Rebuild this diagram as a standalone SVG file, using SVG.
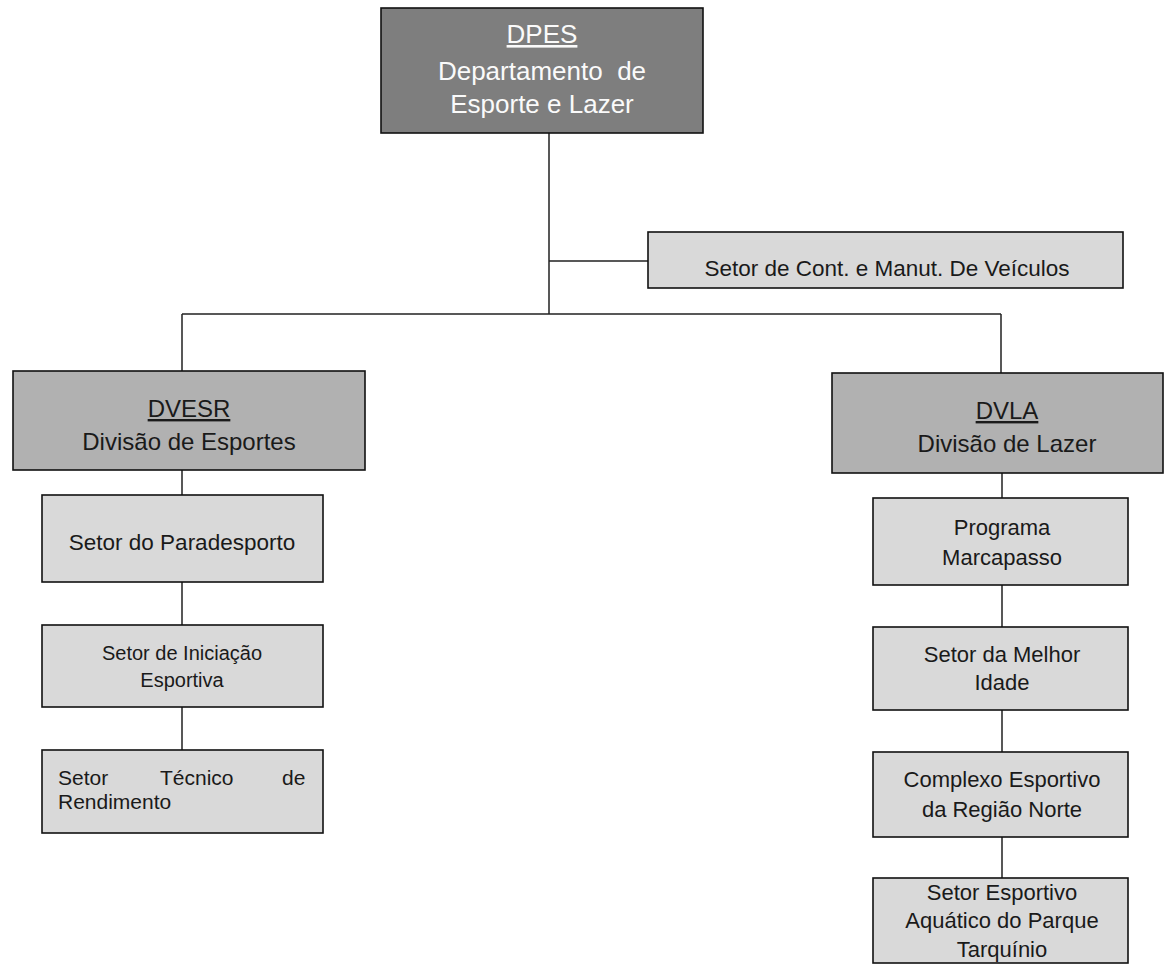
<svg xmlns="http://www.w3.org/2000/svg" width="1165" height="966" viewBox="0 0 1165 966">
<style>
text{font-family:"Liberation Sans",Arial,sans-serif;text-anchor:middle;fill:#1a1a1a}
.box{stroke:#111;stroke-width:1.6}
.dark{fill:#7e7e7e}
.mid{fill:#b1b1b1}
.light{fill:#d9d9d9}
.w{fill:#fafafa}
.conn{stroke:#222;stroke-width:1.5;fill:none}
</style>
<rect width="1165" height="966" fill="#fff"/>
<g id="connectors">
<path class="conn" d="M549 133V314M549 261H648M182 314H1001M182 314V371M1001 314V373"/>
<path class="conn" d="M182 470V495M182 582V625M182 707V750"/>
<path class="conn" d="M1002 473V498M1002 585V627M1002 710V752M1002 837V878"/>
</g>
<g id="dpes">
<rect class="box dark" x="381" y="8" width="322" height="125"/>
<text class="w" x="542" y="43" font-size="26" text-decoration="underline">DPES</text>
<text class="w" x="542" y="80" font-size="26" xml:space="preserve">Departamento  de</text>
<text class="w" x="542" y="113" font-size="26">Esporte e Lazer</text>
</g>
<g id="veiculos">
<rect class="box light" x="648" y="232" width="475" height="56"/>
<text x="887" y="276" font-size="22.5">Setor de Cont. e Manut. De Veículos</text>
</g>
<g id="dvesr">
<rect class="box mid" x="13" y="371" width="352" height="99"/>
<text x="189" y="417" font-size="24" text-decoration="underline">DVESR</text>
<text x="189" y="450" font-size="24">Divisão de Esportes</text>
</g>
<g id="dvla">
<rect class="box mid" x="832" y="373" width="331" height="100"/>
<text x="1007" y="419" font-size="24" text-decoration="underline">DVLA</text>
<text x="1007" y="452" font-size="24">Divisão de Lazer</text>
</g>
<g id="paradesporto">
<rect class="box light" x="42" y="495" width="281" height="87"/>
<text x="182" y="550" font-size="22.5">Setor do Paradesporto</text>
</g>
<g id="iniciacao">
<rect class="box light" x="42" y="625" width="281" height="82"/>
<text x="182" y="660" font-size="20">Setor de Iniciação</text>
<text x="182" y="687" font-size="20">Esportiva</text>
</g>
<g id="tecnico">
<rect class="box light" x="42" y="750" width="281" height="83"/>
<text font-size="21" style="text-anchor:start"><tspan x="58" y="785">Setor</tspan><tspan x="160" y="785">Técnico</tspan><tspan x="282" y="785">de</tspan></text>
<text x="58" y="809" font-size="21" style="text-anchor:start">Rendimento</text>
</g>
<g id="marcapasso">
<rect class="box light" x="873" y="498" width="255" height="87"/>
<text x="1002" y="535" font-size="22">Programa</text>
<text x="1002" y="565" font-size="22">Marcapasso</text>
</g>
<g id="melhor-idade">
<rect class="box light" x="873" y="627" width="255" height="83"/>
<text x="1002" y="662" font-size="22">Setor da Melhor</text>
<text x="1002" y="690" font-size="22">Idade</text>
</g>
<g id="complexo">
<rect class="box light" x="873" y="752" width="255" height="85"/>
<text x="1002" y="787" font-size="22">Complexo Esportivo</text>
<text x="1002" y="817" font-size="22">da Região Norte</text>
</g>
<g id="aquatico">
<rect class="box light" x="873" y="878" width="255" height="85"/>
<text x="1002" y="900" font-size="22">Setor Esportivo</text>
<text x="1002" y="928" font-size="22">Aquático do Parque</text>
<text x="1002" y="957" font-size="22">Tarquínio</text>
</g>
</svg>
